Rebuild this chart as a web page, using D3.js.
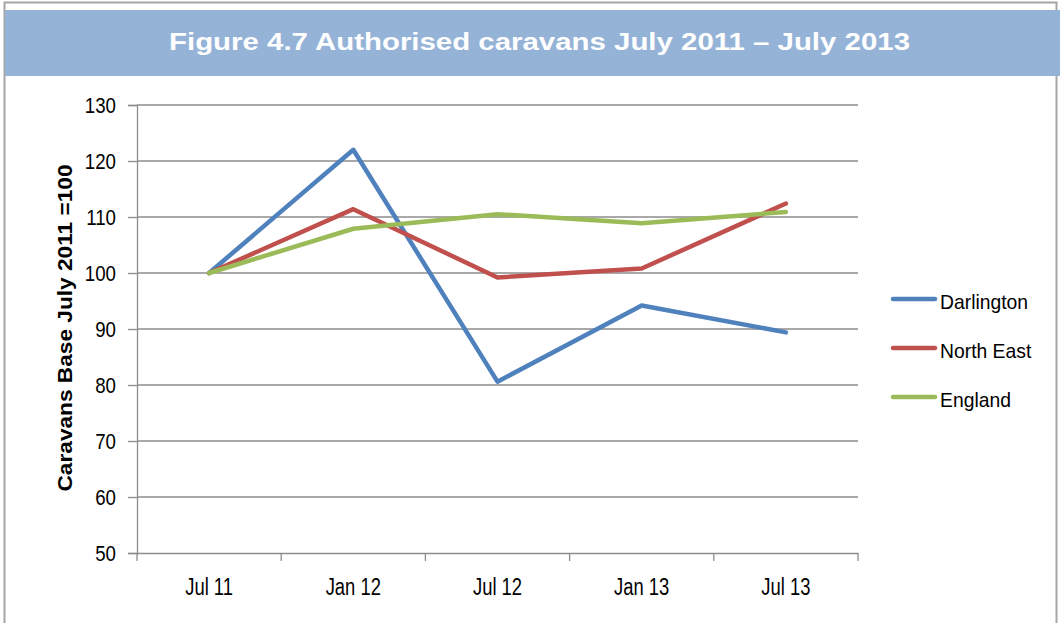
<!DOCTYPE html>
<html>
<head>
<meta charset="utf-8">
<script src="https://cdn.jsdelivr.net/npm/d3@7"></script>
<style>
  body { margin: 0; background: #fff; }
  svg { display: block; }
</style>
</head>
<body>
<svg id="chart" width="1060" height="623"></svg>
<script>
// data
var periods = ["Jul 11", "Jan 12", "Jul 12", "Jan 13", "Jul 13"];
var darlington = [100, 122, 80.6, 94.2, 89.4];
var northEast = [100, 111.4, 99.2, 100.8, 112.4];
var england = [100, 107.9, 110.5, 108.9, 110.9];
var seriesNames = ["Darlington", "North East", "England"];
var yTicks = [50, 60, 70, 80, 90, 100, 110, 120, 130];

var colors = ["#4F81BD", "#C0504D", "#9BBB59"];
var series = [darlington, northEast, england];

var sans = "Liberation Sans, Arial, sans-serif";

// squeeze text sideways so it looks like the narrow office font
function squeeze(sel, k) {
    sel.each(function () {
        var len = this.getComputedTextLength();
        d3.select(this)
            .attr("textLength", len * k)
            .attr("lengthAdjust", "spacingAndGlyphs");
    });
}

var svg = d3.select("#chart");

// outer frame + title band
svg.append("rect")
    .attr("x", 4.5).attr("y", 2.5)
    .attr("width", 1052).attr("height", 640)
    .attr("fill", "#fff")
    .attr("stroke", "#a6a6a6")
    .attr("stroke-width", 2);

svg.append("rect")
    .attr("x", 5).attr("y", 10)
    .attr("width", 1055).attr("height", 66)
    .attr("fill", "#95B3D7");

svg.append("text")
    .attr("x", 169).attr("y", 50)
    .attr("fill", "#fff")
    .attr("textLength", 741)
    .attr("lengthAdjust", "spacingAndGlyphs")
    .style("font-family", sans)
    .style("font-weight", "bold")
    .style("font-size", "23.5px")
    .text("Figure 4.7 Authorised caravans July 2011 \u2013 July 2013");

var margin = { top: 105, left: 137 },
    width = 721,
    height = 448;

var g = svg.append("g")
    .attr("transform", "translate(" + margin.left + "," + margin.top + ")");

var x = d3.scaleBand()
    .domain(periods)
    .range([0, width]);

var y = d3.scaleLinear()
    .domain([50, 130])
    .range([height, 0]);

// gridlines
g.append("g")
    .selectAll("line")
    .data(yTicks.slice(1))
    .enter()
    .append("line")
    .attr("x1", 0).attr("x2", width)
    .attr("y1", function (d) { return y(d); })
    .attr("y2", function (d) { return y(d); })
    .attr("stroke", "#8c8c8c")
    .attr("stroke-width", 1.3);

// y axis
var yAxis = g.append("g")
    .call(d3.axisLeft(y).tickValues(yTicks).tickSize(9).tickPadding(12));
yAxis.select(".domain").attr("stroke", "#8c8c8c").attr("stroke-width", 1.3);
yAxis.selectAll(".tick line").attr("stroke", "#8c8c8c").attr("stroke-width", 1.3);
yAxis.selectAll("text")
    .attr("fill", "#000")
    .style("font-family", sans)
    .style("font-size", "22px")
    .call(squeeze, 0.85);

// x axis, ticks sit on the band edges
var xAxis = g.append("g")
    .attr("transform", "translate(0," + height + ")")
    .call(d3.axisBottom(x).tickSize(0).tickPadding(26));
xAxis.select(".domain").attr("stroke", "#8c8c8c").attr("stroke-width", 1.3);
xAxis.selectAll("text")
    .attr("fill", "#000")
    .style("font-family", sans)
    .style("font-size", "23px")
    .call(squeeze, 0.8);

var edges = periods.map(function (p) { return x(p); }).concat([width]);
xAxis.selectAll(".edge")
    .data(edges)
    .enter()
    .append("line")
    .attr("x1", function (d) { return d; })
    .attr("x2", function (d) { return d; })
    .attr("y1", 0).attr("y2", 8)
    .attr("stroke", "#8c8c8c")
    .attr("stroke-width", 1.3);

// y axis title
svg.append("text")
    .attr("transform", "translate(72,328) rotate(-90)")
    .attr("text-anchor", "middle")
    .attr("fill", "#000")
    .attr("textLength", 327)
    .attr("lengthAdjust", "spacingAndGlyphs")
    .style("font-family", sans)
    .style("font-weight", "bold")
    .style("font-size", "21px")
    .text("Caravans Base July 2011 =100");

// lines
var line = d3.line()
    .x(function (d, i) { return x(periods[i]) + x.bandwidth() / 2; })
    .y(function (d) { return y(d); });

g.selectAll(".series")
    .data(series)
    .enter()
    .append("path")
    .attr("d", line)
    .attr("fill", "none")
    .attr("stroke", function (d, i) { return colors[i]; })
    .attr("stroke-width", 4.5)
    .attr("stroke-linejoin", "round")
    .attr("stroke-linecap", "round");

// legend
var legend = svg.append("g")
    .selectAll("g")
    .data(seriesNames)
    .enter()
    .append("g")
    .attr("transform", function (d, i) { return "translate(893," + (299 + i * 49) + ")"; });

legend.append("line")
    .attr("x1", 0).attr("x2", 42)
    .attr("stroke", function (d, i) { return colors[i]; })
    .attr("stroke-width", 4.5)
    .attr("stroke-linecap", "round");

legend.append("text")
    .attr("x", 47).attr("y", 10)
    .attr("fill", "#000")
    .style("font-family", sans)
    .style("font-size", "21px")
    .text(function (d) { return d; })
    .call(squeeze, 0.92);
</script>
</body>
</html>
